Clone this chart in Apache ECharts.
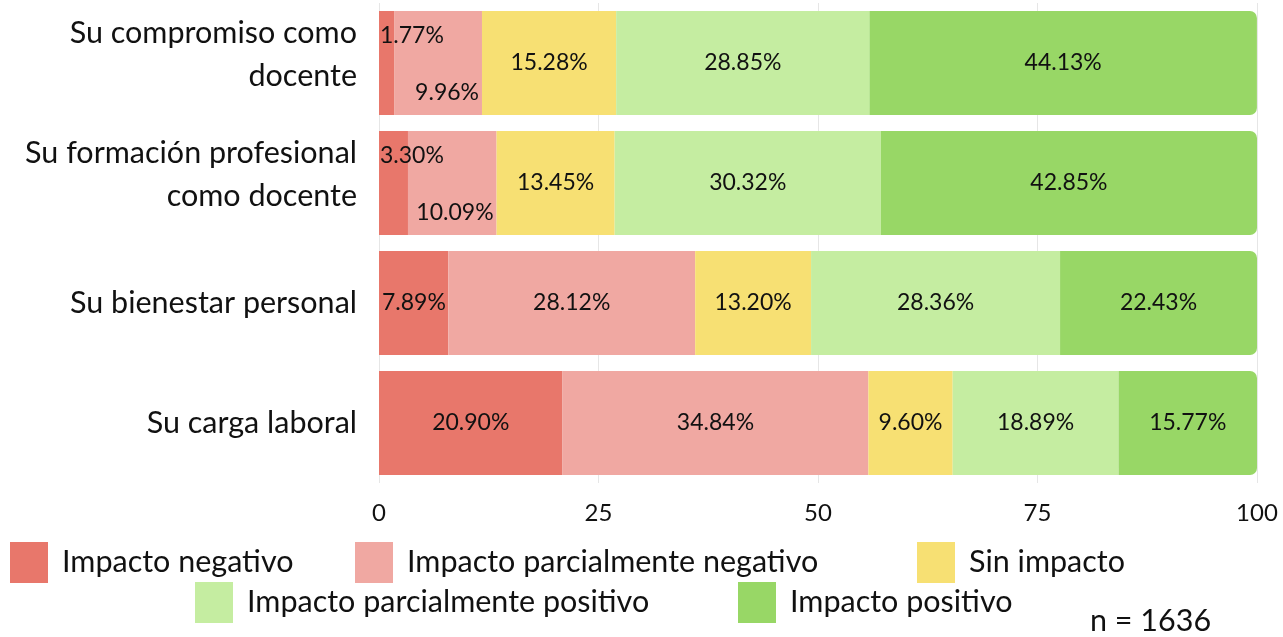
<!DOCTYPE html>
<html>
<head>
<meta charset="utf-8">
<script src="https://cdn.jsdelivr.net/npm/echarts@6/dist/echarts.min.js"></script>
<style>
html,body{margin:0;padding:0;background:#fff;}
#chart{width:1283px;height:637px;}
</style>
</head>
<body>
<div id="chart"></div>
<script>
const categories = ['Su compromiso como\ndocente', 'Su formación profesional\ncomo docente', 'Su bienestar personal', 'Su carga laboral'];
const seriesNames = ['Impacto negativo', 'Impacto parcialmente negativo', 'Sin impacto', 'Impacto parcialmente positivo', 'Impacto positivo'];
const negativo = [1.77, 3.30, 7.89, 20.90];
const parcialNegativo = [9.96, 10.09, 28.12, 34.84];
const sinImpacto = [15.28, 13.45, 13.20, 9.60];
const parcialPositivo = [28.85, 30.32, 28.36, 18.89];
const positivo = [44.13, 42.85, 22.43, 15.77];
const xTicks = [0, 25, 50, 75, 100];
const sampleNote = 'n = 1636';

const colors = ['#E8776B', '#F0A8A2', '#F7E073', '#C5EDA1', '#98D766'];
const FONT = 'Lato';
const values = [negativo, parcialNegativo, sinImpacto, parcialPositivo, positivo];

function buildData(si) {
  return values[si].map((v, i) => {
    const item = { value: v };
    if (si === 0 && v < 5) {
      item.label = { position: [1, 25], align: 'left', verticalAlign: 'middle' };
    } else if (si === 1 && values[0][i] < 5) {
      item.label = { position: 'insideBottomRight', distance: 3, offset: [0, -8] };
    } else if (si === 0 && v < 10) {
      item.label = { position: 'insideLeft', distance: 3 };
    }
    return item;
  });
}

const series = seriesNames.map((name, si) => ({
  name: name,
  type: 'bar',
  stack: 'total',
  barWidth: 104,
  data: buildData(si),
  itemStyle: { color: colors[si], borderRadius: si === 4 ? [0, 7, 7, 0] : 0 },
  label: {
    show: true,
    position: 'inside',
    fontFamily: FONT,
    fontSize: 23,
    color: '#111',
    formatter: p => p.value.toFixed(2) + '%'
  },
  emphasis: { disabled: true }
}));

const legendPos = [
  { left: 10, top: 542 },
  { left: 355, top: 542 },
  { left: 917, top: 542 },
  { left: 195, top: 582 },
  { left: 738, top: 582 }
];

const legends = seriesNames.map((name, i) => ({
  data: [name],
  left: legendPos[i].left,
  top: legendPos[i].top,
  padding: 0,
  orient: 'horizontal',
  icon: 'rect',
  itemWidth: 38,
  itemHeight: 41,
  selectedMode: false,
  textStyle: { fontFamily: FONT, fontSize: 30.5, color: '#111', padding: [0, 0, 0, 9] }
}));

function categoryFormatter(v) {
  const lines = v.split('\n');
  if (lines.length === 1) return '{c|' + v + '}';
  return lines.map(l => '{m|' + l + '}').join('\n');
}

const chart = echarts.init(document.getElementById('chart'));
chart.setOption({
  animation: false,
  backgroundColor: '#fff',
  color: colors,
  grid: { left: 379, right: 26, top: 3, bottom: 154, containLabel: false },
  xAxis: {
    type: 'value',
    min: 0,
    max: 100,
    interval: 25,
    axisLine: { show: false },
    axisTick: { show: false },
    splitLine: { show: true, lineStyle: { color: '#e6e6e6', width: 1 } },
    axisLabel: {
      fontFamily: FONT, fontSize: 24, color: '#111', margin: 18,
      formatter: v => (xTicks.indexOf(v) >= 0 ? String(v) : '')
    }
  },
  yAxis: {
    type: 'category',
    data: categories,
    inverse: true,
    axisLine: { show: false },
    axisTick: { show: false },
    axisLabel: {
      fontFamily: FONT, fontSize: 30.5, color: '#111', margin: 22, align: 'right',
      formatter: categoryFormatter,
      rich: {
        c: { fontFamily: FONT, fontSize: 30.5, color: '#111', lineHeight: 43 },
        m: { fontFamily: FONT, fontSize: 30.5, color: '#111', lineHeight: 43, padding: [0, 0, 16, 0] }
      }
    }
  },
  legend: legends,
  graphic: [{
    type: 'text',
    left: 1090,
    top: 606,
    style: { text: sampleNote, fontFamily: FONT, fontSize: 30.5, fill: '#111' }
  }],
  series: series
});
</script>
</body>
</html>
